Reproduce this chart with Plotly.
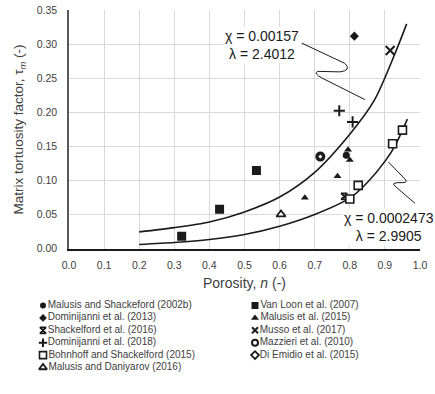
import plotly.graph_objects as go

# ---- data: porosity n (-) and matrix tortuosity factor tau_m (-) ----
series_names = [
    "Malusis and Shackeford (2002b)",
    "Van Loon et al. (2007)",
    "Dominijanni et al. (2013)",
    "Malusis et al. (2015)",
    "Shackelford et al. (2016)",
    "Musso et al. (2017)",
    "Dominijanni et al. (2018)",
    "Mazzieri et al. (2010)",
    "Bohnhoff and Shackelford (2015)",
    "Di Emidio et al. (2015)",
    "Malusis and Daniyarov (2016)",
]

malusis2002_n = [0.790]
malusis2002_tau = [0.137]
vanloon_n = [0.321, 0.429, 0.534]
vanloon_tau = [0.018, 0.0576, 0.1146]
dominijanni2013_n = [0.813]
dominijanni2013_tau = [0.312]
malusis2015_n = [0.672, 0.765, 0.795, 0.800]
malusis2015_tau = [0.0746, 0.106, 0.145, 0.130]
shackelford2016_n = [0.784]
shackelford2016_tau = [0.0766]
musso_n = [0.915]
musso_tau = [0.291]
dominijanni2018_n = [0.770, 0.808]
dominijanni2018_tau = [0.2024, 0.186]
mazzieri_n = [0.716]
mazzieri_tau = [0.135]
bohnhoff_n = [0.800, 0.824, 0.922, 0.950]
bohnhoff_tau = [0.0727, 0.0927, 0.154, 0.174]
diemidio_n = [0.716]
diemidio_tau = [0.135]
daniyarov_n = [0.604]
daniyarov_tau = [0.050]

# fitted trend curves (upper: chi = 0.00157, lambda = 2.4012; lower: chi = 0.0002473, lambda = 2.9905)
upper_n = [0.20, 0.30, 0.40, 0.50, 0.60, 0.70, 0.80, 0.87, 0.93, 0.962]
upper_tau = [0.0244, 0.0307, 0.039, 0.0537, 0.0756, 0.112, 0.168, 0.218, 0.288, 0.330]
lower_n = [0.20, 0.30, 0.40, 0.50, 0.60, 0.70, 0.80, 0.85, 0.90, 0.93, 0.964]
lower_tau = [0.0059, 0.0088, 0.0132, 0.0205, 0.0327, 0.050, 0.074, 0.097, 0.128, 0.152, 0.190]

x_ticks = [0.0, 0.1, 0.2, 0.3, 0.4, 0.5, 0.6, 0.7, 0.8, 0.9, 1.0]
y_ticks = [0.00, 0.05, 0.10, 0.15, 0.20, 0.25, 0.30, 0.35]

fit_labels = ["χ = 0.00157<br>λ = 2.4012", "χ = 0.0002473<br>λ = 2.9905"]

# ---- styling ----
INK = "#1a1a1a"
TEXT = "#404040"
FONT = "Liberation Sans, Arial, sans-serif"
W, H = 435, 394

series_data = [
    (malusis2002_n, malusis2002_tau),
    (vanloon_n, vanloon_tau),
    (dominijanni2013_n, dominijanni2013_tau),
    (malusis2015_n, malusis2015_tau),
    (shackelford2016_n, shackelford2016_tau),
    (musso_n, musso_tau),
    (dominijanni2018_n, dominijanni2018_tau),
    (mazzieri_n, mazzieri_tau),
    (bohnhoff_n, bohnhoff_tau),
    (diemidio_n, diemidio_tau),
    (daniyarov_n, daniyarov_tau),
]

# (symbol, size on chart, size in key, fill, outline width)
marker_styles = [
    ("circle", 7, 6, INK, 0),
    ("square", 9, 7, INK, 0),
    ("diamond", 7, 6, INK, 0),
    ("triangle-up", 7, 7, INK, 0),
    ("hourglass-open", 6, 6, INK, 1.8),
    ("x-thin-open", 9, 6, INK, 2),
    ("cross-thin-open", 8, 6, INK, 2),
    ("circle-open", 8, 6, INK, 2),
    ("square", 8, 7, "white", 1.6),
    ("diamond-open", 5, 6, INK, 1.8),
    ("triangle-up", 8, 7, "white", 1.8),
]

fig = go.Figure()

for cn, ct in [(upper_n, upper_tau), (lower_n, lower_tau)]:
    fig.add_trace(go.Scatter(
        x=cn, y=ct, mode="lines", line=dict(color=INK, width=1.6, shape="spline", smoothing=0.8),
        showlegend=False, hoverinfo="skip"))

for name, (sx, sy), (sym, sz, _, fill, lw) in zip(series_names, series_data, marker_styles):
    fig.add_trace(go.Scatter(
        x=sx, y=sy, mode="markers", name=name,
        marker=dict(symbol=sym, size=sz, color=fill, line=dict(color=INK, width=lw)),
        showlegend=False))

# two-column key drawn on its own hidden axes below the chart
for i, (name, (sym, _, ksz, fill, lw)) in enumerate(zip(series_names, marker_styles)):
    fig.add_trace(go.Scatter(
        x=[i % 2], y=[i // 2], xaxis="x2", yaxis="y2", mode="markers+text",
        text=[name], textposition="middle right",
        textfont=dict(family=FONT, size=10, color=TEXT),
        marker=dict(symbol=sym, size=ksz, color=fill, line=dict(color=INK, width=lw)),
        cliponaxis=False, showlegend=False, hoverinfo="skip"))

plot_l, plot_r, plot_t, plot_b = 69, 420, 10.3, 248.5

fig.update_layout(
    width=W, height=H,
    margin=dict(l=0, r=0, t=0, b=0),
    paper_bgcolor="white", plot_bgcolor="white",
    font=dict(family=FONT, color=TEXT),
    showlegend=False,
    xaxis=dict(
        domain=[plot_l / W, plot_r / W], range=[0, 1],
        tickvals=x_ticks, ticktext=[f"{v:.1f}" for v in x_ticks],
        tickfont=dict(size=10.5, color=TEXT), ticks="", ticklabelstandoff=6,
        showgrid=True, gridcolor="#d9d9d9", gridwidth=1, zeroline=False,
        showline=True, linecolor=INK, linewidth=1.5, automargin=False,
        title=dict(text="Porosity, <i>n</i> (-)", font=dict(size=14, color=TEXT), standoff=8),
        anchor="y", fixedrange=True,
    ),
    yaxis=dict(
        domain=[(H - plot_b) / H, (H - plot_t) / H], range=[0, 0.35],
        tickvals=y_ticks, ticktext=[f"{v:.2f}" for v in y_ticks],
        tickfont=dict(size=10.5, color=TEXT), ticks="", ticklabelstandoff=8,
        showgrid=True, gridcolor="#d9d9d9", gridwidth=1, zeroline=False,
        showline=True, linecolor="#595959", linewidth=1.5, automargin=False,
        title=dict(text="Matrix tortuosity factor, τ<sub><i>m</i></sub> (-)",
                   font=dict(size=13.5, color=TEXT), standoff=10),
        anchor="x", fixedrange=True,
    ),
    xaxis2=dict(domain=[43 / W, 255 / W], range=[0, 1], visible=False,
                anchor="y2", fixedrange=True),
    yaxis2=dict(domain=[(H - 367.5) / H, (H - 305.5) / H], range=[5, 0], visible=False,
                anchor="x2", fixedrange=True),
)

# fit labels with their leader lines
fig.add_annotation(x=0.551, y=0.299, xref="x", yref="y", text=fit_labels[0], showarrow=False,
                   font=dict(size=14, color=INK), bgcolor="white", align="center")
fig.add_annotation(x=0.913, y=0.0315, xref="x", yref="y", text=fit_labels[1], showarrow=False,
                   font=dict(size=14, color=INK), bgcolor="white", align="center")

fig.add_shape(type="path", xref="x", yref="y", line=dict(color=INK, width=1),
              path="M 0.663,0.3018 L 0.786,0.272 Q 0.806,0.2617 0.772,0.2595 "
                   "L 0.709,0.2603 Q 0.695,0.2577 0.721,0.2504 L 0.843,0.2188")
fig.add_shape(type="path", xref="x", yref="y", line=dict(color=INK, width=1),
              path="M 0.9097,0.1273 L 0.960,0.1004 Q 0.966,0.0960 0.937,0.0968 "
                   "Q 0.917,0.0960 0.929,0.0916 L 0.986,0.0663")

fig.write_html("out.html")
